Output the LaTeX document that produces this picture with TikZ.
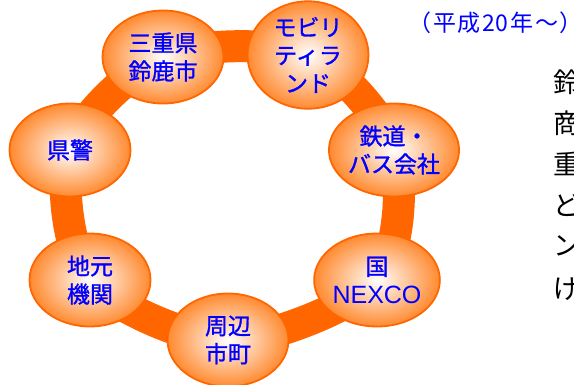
\documentclass[tikz,border=0pt]{standalone}
\usepackage{fontspec}
\setmainfont{Noto Sans CJK JP}
\newfontfamily\latinfont{Liberation Sans}
\newfontfamily\bluefont[FakeBold=1.2]{Noto Sans CJK JP}
\usetikzlibrary{shapes.geometric,backgrounds}
\definecolor{ringorange}{RGB}{255,102,0}
\definecolor{edgeorange}{RGB}{255,138,48}
\definecolor{txtblue}{RGB}{0,0,255}
\tikzset{
  org/.style={ellipse, draw=ringorange, line width=1.8pt, inner color=white,
    outer color=edgeorange, minimum width=121pt, minimum height=93pt,
    inner sep=0pt, text=txtblue, align=center,
    font=\bluefont\fontsize{23}{28}\selectfont},
  side/.style={anchor=west, inner sep=0pt, text=black,
    font=\fontsize{27}{27}\selectfont},
  ring/.style={draw=ringorange, line width=32pt}
}
\begin{document}
\begin{tikzpicture}[x=1pt,y=-1pt]
\useasboundingbox (0,0) rectangle (574,385);
\clip (0,0) rectangle (574,385);

\node[org] (mie)   at (163,57)  {三重県\\鈴鹿市};
\node[org] (mobi)  at (308,55)  {モビリ\\ティラ\\ンド};
\node[org] (rail)  at (394,150) {鉄道・\\バス会社};
\node[org] (nexco) at (377,280) {国\\[0pt]{\latinfont\fontsize{25}{27}\selectfont NEXCO}};
\node[org] (city)  at (228,340) {周辺\\市町};
\node[org] (local) at (90,280)  {地元\\機関};
\node[org] (police) at (70,150) {県警};

\begin{pgfonlayer}{background}
\draw[ring] plot[smooth cycle, tension=0.5] coordinates
  {(mie.center) (mobi.center) (rail.center) (nexco.center) (city.center) (local.center) (police.center)};
\end{pgfonlayer}

\node[text=txtblue, font=\fontsize{23}{26}\selectfont, anchor=east, inner sep=0pt] (title) at (572,23)
  {（\hspace{1.5pt}平\hspace{1.5pt}成\hspace{2pt}20\hspace{2pt}年\hspace{2pt}～\hspace{1.5pt}）\kern-11pt};

\node[side] (s1) at (553,82)  {鈴};
\node[side] (s2) at (553,123) {商};
\node[side] (s3) at (553,164) {重};
\node[side] (s4) at (553,205) {ど};
\node[side] (s5) at (553,246) {ン};
\node[side] (s6) at (553,288) {げ};
\end{tikzpicture}
\end{document}
